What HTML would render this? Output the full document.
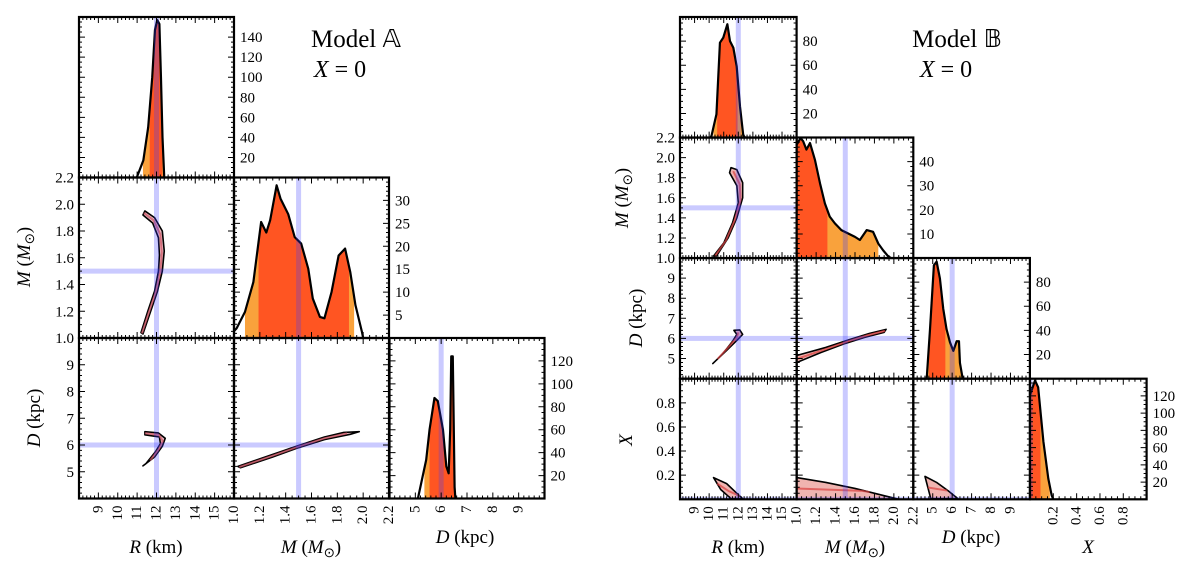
<!DOCTYPE html>
<html><head><meta charset="utf-8"><style>
html,body{margin:0;padding:0;background:#fff;}
svg{display:block;}
</style></head><body>
<svg id="fig" xmlns="http://www.w3.org/2000/svg" width="1200" height="577" viewBox="0 0 1200 577">
<rect x="0" y="0" width="1200" height="577" fill="#fff"/>
</svg>
<script>
// ---------- Model A 1D histograms ----------
const aRx=[10.98,11.32,11.57,11.78,11.92,12.04,12.15,12.23,12.31,12.4];
const aRv=[0,17,50,100,147,157,153,100,40,0];
const aRci95=[11.3,12.38], aRci68=[11.65,12.3];
const aMx=[1.0,1.02,1.085,1.15,1.21,1.25,1.28,1.33,1.36,1.42,1.47,1.52,1.575,1.61,1.665,1.70,1.755,1.81,1.86,1.90,1.94,1.99,2.0];
const aMv=[1.5,2.1,5.7,12.2,25.3,23,25.7,33.3,30.4,27,22,20.6,15.1,8.6,4.6,4.3,10,18,19.5,14.4,7.2,1.4,0];
const aMci95=[1.085,1.93], aMci68=[1.19,1.89];
const aDx=[5.1,5.42,5.55,5.74,5.87,6.07,6.2,6.29,6.35,6.39,6.45,6.52,6.55];
const aDv=[0,33.7,60,87.7,85,60,28,22,60,124,124,10,0];
const aDci95=[5.35,6.53], aDci68=[5.55,6.5];
// ---------- Model A 2D contours ----------
const aRM_R=[11.3,11.7,12.05,12.3,12.4,12.3,11.9,11.4,11.3,11.8,12.1,12.15,12.1,11.9,11.55,11.2];
const aRM_M=[1.03,1.2,1.35,1.5,1.65,1.8,1.9,1.95,1.92,1.86,1.75,1.62,1.5,1.35,1.2,1.04];
const aRD_R=[11.4,12.1,12.45,12.3,11.9,11.3,11.45,11.95,12.2,12.15,11.4];
const aRD_D=[6.5,6.45,6.25,5.95,5.55,5.22,5.3,5.75,6.05,6.3,6.38];
const aMD_M=[1.03,1.3,1.5,1.7,1.85,1.97,1.9,1.7,1.5,1.3,1.05];
const aMD_D=[5.2,5.65,5.98,6.3,6.47,6.5,6.4,6.2,5.9,5.55,5.15];
// ---------- Model B 1D histograms ----------
const bRx=[10.1,10.17,10.5,10.74,10.97,11.25,11.43,11.66,11.89,12.12,12.34,12.46];
const bRv=[0,1.9,19.4,78.7,82.9,94,80,74.5,59,25.5,1.9,0];
const bRci95=[10.3,12.3], bRci68=[10.55,11.95];
const bMx=[1.0,1.04,1.067,1.1,1.137,1.188,1.24,1.29,1.34,1.393,1.46,1.53,1.6,1.65,1.72,1.786,1.84,1.89,1.94,1.97];
const bMv=[47,49.8,48.4,45,47.7,40.7,31,22.7,17.2,14.4,11.6,10.2,8.8,7.5,11.6,10.9,6,3.2,0.8,0];
const bMci95=[1.0,1.84], bMci68=[1.0,1.316];
const bDx=[4.69,4.86,5.06,5.2,5.37,5.54,5.71,5.89,6.06,6.23,6.35,6.4,6.54];
const bDv=[0,41,94,97,83,58,41,30,23,31,31,13,0];
const bDci95=[4.75,6.5], bDci68=[4.8,5.65];
const bXx=[0,0.043,0.07,0.115,0.157,0.186,0.2];
const bXv=[121,138,130,67,24,4.5,0];
const bXci95=[0,0.17], bXci68=[0,0.09];
// ---------- Model B 2D contours ----------
const bRM_R=[10.5,11.3,11.9,12.3,12.3,11.9,11.5,11.4,11.9,12.0,11.6,11.0,10.3];
const bRM_M=[1.02,1.2,1.4,1.6,1.75,1.88,1.9,1.85,1.72,1.55,1.35,1.15,1.02];
const bRD_R=[10.25,11.2,11.9,12.3,12.1,11.7,11.9,11.6,10.9];
const bRD_D=[4.75,5.4,5.9,6.2,6.42,6.4,6.2,5.85,5.2];
const bMD_M=[1.0,1.3,1.55,1.75,1.92,1.9,1.7,1.5,1.25,1.0];
const bMD_D=[5.15,5.55,5.95,6.25,6.45,6.3,6.05,5.75,5.3,4.8];
const bRX_R=[10.3,11.2,11.9,12.3,11.5,10.8];
const bRX_X=[0.18,0.13,0.05,0.005,0.005,0.08];
const bMX_M=[1.0,1.3,1.6,1.9,2.05,1.0];
const bMX_X=[0.18,0.14,0.09,0.03,0.0,0.0];
const bDX_D=[4.6,5.2,5.8,6.3,4.9];
const bDX_X=[0.19,0.14,0.07,0.005,0.005];
// ---------- truths & tick labels ----------
const truthR=12.0, truthM=1.5, truthD=6.0, truthX=0.0;
const Rticks=[9,10,11,12,13,14,15];
const Mticks=[1.0,1.2,1.4,1.6,1.8,2.0,2.2];
const Dticks=[5,6,7,8,9];
const Xticks=[0.2,0.4,0.6,0.8];
const aRhTicks=[20,40,60,80,100,120,140];
const aMhTicks=[5,10,15,20,25,30];
const aDhTicks=[20,40,60,80,100,120];
const bRhTicks=[20,40,60,80];
const bMhTicks=[10,20,30,40];
const bDhTicks=[20,40,60,80];
const bXhTicks=[20,40,60,80,100,120];

const NS='http://www.w3.org/2000/svg';
const svg=document.getElementById('fig');
const FONT="Liberation Serif, serif";
let clipN=0;
function add(tag,parent){const e=document.createElementNS(NS,tag);parent.appendChild(e);return e;}
function set(e,o){for(const k in o)e.setAttribute(k,o[k]);return e;}
function fmt(v,d){return v.toFixed(d);}

function makePanel(name,x0,y0,w,h,xr,yr){
  const g=add('g',svg);
  
  
  const cp=add('clipPath',g);cp.id='cp'+(clipN++);
  set(add('rect',cp),{x:x0,y:y0,width:w,height:h});
  const inner=add('g',g);inner.setAttribute('clip-path','url(#'+cp.id+')');
  return {g,inner,x0,y0,w,h,xr,yr,
    sx:v=>x0+(v-xr[0])/(xr[1]-xr[0])*w,
    sy:v=>y0+h-(v-yr[0])/(yr[1]-yr[0])*h};
}
function interp(xs,vs,x){
  for(let i=0;i<xs.length-1;i++){if(x>=xs[i]&&x<=xs[i+1]){const t=(x-xs[i])/(xs[i+1]-xs[i]||1);return vs[i]+t*(vs[i+1]-vs[i]);}}
  return 0;
}
function areaPath(p,xs,vs,lo,hi){
  let d='M'+p.sx(lo)+','+p.sy(0)+' L'+p.sx(lo)+','+p.sy(interp(xs,vs,lo));
  for(let i=0;i<xs.length;i++){if(xs[i]>lo&&xs[i]<hi)d+=' L'+p.sx(xs[i])+','+p.sy(vs[i]);}
  d+=' L'+p.sx(hi)+','+p.sy(interp(xs,vs,hi))+' L'+p.sx(hi)+','+p.sy(0)+'Z';
  return d;
}
function hist(p,xs,vs,ci95,ci68,nm){
  const a95=add('path',p.inner);set(a95,{d:areaPath(p,xs,vs,ci95[0],ci95[1]),fill:'#f9a23c'});
  
  
  const a68=add('path',p.inner);set(a68,{d:areaPath(p,xs,vs,ci68[0],ci68[1]),fill:'#ff5522'});
  
  
  const ln=add('polyline',p.inner);
  set(ln,{points:xs.map((x,i)=>p.sx(x)+','+p.sy(vs[i])).join(' '),fill:'none',stroke:'#000','stroke-width':2.2,'stroke-linejoin':'round'});
  
  
}
function contour(p,xs,ys,nm,fill,core){
  const pg=add('polygon',p.inner);
  set(pg,{points:xs.map((x,i)=>p.sx(x)+','+p.sy(ys[i])).join(' '),fill:fill,stroke:'#000','stroke-width':1.6,'stroke-linejoin':'round'});
  
  
  if(core){
    const n=xs.length;const half=Math.floor(n/2);const pts=[];
    for(let i=0;i<half;i++){const j=n-1-i;pts.push(p.sx((xs[i]+xs[j])/2)+','+p.sy((ys[i]+ys[j])/2));}
    const cl=add('polyline',p.inner);set(cl,{points:pts.join(' '),fill:'none',stroke:core,'stroke-width':2,'stroke-opacity':0.7});
    
    
  }
}
function truthV(p,v){const r=add('rect',p.inner);set(r,{x:p.sx(v)-2.5,y:p.y0,width:5,height:p.h,fill:'rgb(60,60,255)','fill-opacity':0.27});
  
  }
function truthH(p,v){const r=add('rect',p.inner);set(r,{x:p.x0,y:p.sy(v)-2.5,width:p.w,height:5,fill:'rgb(60,60,255)','fill-opacity':0.27});
  
  }
function frame(p,xMaj,xMin,yMaj,yMin){
  const g=p.g;let d='';
  const nx=Math.round((p.xr[1]-p.xr[0])/xMin);
  for(let i=0;i<=nx;i++){const v=p.xr[0]+i*xMin;const m=Math.abs(v/xMaj-Math.round(v/xMaj))<1e-6;const L=m?6:3;const X=p.sx(v);
    d+='M'+X+','+(p.y0+p.h)+'v'+(-L)+'M'+X+','+p.y0+'v'+L;}
  const ny=Math.round((p.yr[1]-p.yr[0])/yMin);
  for(let i=0;i<=ny;i++){const v=p.yr[0]+i*yMin;const m=Math.abs(v/yMaj-Math.round(v/yMaj))<1e-6;const L=m?6:3;const Y=p.sy(v);
    d+='M'+p.x0+','+Y+'h'+L+'M'+(p.x0+p.w)+','+Y+'h'+(-L);}
  const t=add('path',g);set(t,{d:d,stroke:'#000','stroke-width':1,fill:'none'});
  
  
  const r=add('rect',g);set(r,{x:p.x0,y:p.y0,width:p.w,height:p.h,fill:'none',stroke:'#000','stroke-width':2.2});
  
  
}
function txt(s,x,y,size,anchor,nm,extra){
  const t=add('text',svg);set(t,{x:x,y:y,'font-size':size,'font-family':FONT,'text-anchor':anchor||'start',fill:'#000'});
  if(extra)set(t,extra);t.textContent=s;
  
  
  return t;
}
function xLabels(p,ticks,dec,fs){
  ticks.forEach(v=>{const X=p.sx(v),Y=p.y0+p.h+7;
    txt(fmt(v,dec),X,Y,fs,'end','x-tick-label',{transform:'rotate(-90 '+X+' '+Y+')','dominant-baseline':'central'});});
}
function yLabelsLeft(p,ticks,dec,fs){ticks.forEach(v=>txt(fmt(v,dec),p.x0-5,p.sy(v)+5,fs,'end','y-tick-label'));}
function yLabelsRight(p,ticks,fs){ticks.forEach(v=>txt(String(v),p.x0+p.w+6,p.sy(v)+5,fs,'start','hist-tick-label'));}
function rotTitle(html,x,y,fs){const X=x,Y=y;const t=txt('',X,Y,fs,'middle','y-axis-title',{transform:'rotate(-90 '+X+' '+Y+')'});t.innerHTML=html;}
function title(html,x,y,fs,nm){const t=txt('',x,y,fs,'middle',nm);t.innerHTML=html;}

const Rr=[8,16],Mr=[1.0,2.2],Dr=[4,10],Xr=[0,1];
const MSUN='<tspan font-style="italic">M</tspan> (<tspan font-style="italic">M</tspan><tspan font-size="70%" dy="4">⊙</tspan><tspan dy="-4">)</tspan>';
const DKPC='<tspan font-style="italic">D</tspan> (kpc)';
const RKM='<tspan font-style="italic">R</tspan> (km)';

// ================= MODEL A =================
(function(){
  const cx=[79,234,389.5,545], ry=[17,177.5,338,499];
  const W=155,H=160.5, fs=15;
  let p;
  p=makePanel('modelA-R-histogram',cx[0],ry[0],W,H,Rr,[0,160]);
  hist(p,aRx,aRv,aRci95,aRci68,'modelA-R');truthV(p,truthR);frame(p,1,0.2,20,5);yLabelsRight(p,aRhTicks,fs);
  p=makePanel('modelA-R-M-panel',cx[0],ry[1],W,H,Rr,Mr);
  contour(p,aRM_R,aRM_M,'modelA-R-M','#eebcc4','#c85060');truthV(p,truthR);truthH(p,truthM);frame(p,1,0.2,0.2,0.05);yLabelsLeft(p,Mticks,1,fs);
  p=makePanel('modelA-M-histogram',cx[1],ry[1],W,H,Mr,[0,35]);
  hist(p,aMx,aMv,aMci95,aMci68,'modelA-M');truthV(p,truthM);frame(p,0.2,0.05,5,1);yLabelsRight(p,aMhTicks,fs);
  p=makePanel('modelA-R-D-panel',cx[0],ry[2],W,H,Rr,Dr);
  contour(p,aRD_R,aRD_D,'modelA-R-D','#eebcc4','#c85060');truthV(p,truthR);truthH(p,truthD);frame(p,1,0.2,1,0.2);yLabelsLeft(p,Dticks,0,fs);xLabels(p,Rticks,0,fs);
  p=makePanel('modelA-M-D-panel',cx[1],ry[2],W,H,Mr,Dr);
  contour(p,aMD_M,aMD_D,'modelA-M-D','#eebcc4','#c85060');truthV(p,truthM);truthH(p,truthD);frame(p,0.2,0.05,1,0.2);xLabels(p,Mticks,1,fs);
  p=makePanel('modelA-D-histogram',cx[2],ry[2],W,H,Dr,[0,140]);
  hist(p,aDx,aDv,aDci95,aDci68,'modelA-D');truthV(p,truthD);frame(p,1,0.2,20,5);yLabelsRight(p,aDhTicks,fs);xLabels(p,Dticks,0,fs);
  rotTitle(MSUN,30,257,19);rotTitle(DKPC,40,418,19);
  title(RKM,156,553,19,'x-axis-title-R');title(MSUN,311,553,19,'x-axis-title-M');title(DKPC,465,543,19,'x-axis-title-D');
  title('Model <tspan font-family="DejaVu Sans">𝔸</tspan>',356,47,25,'modelA-title');
  title('<tspan font-style="italic">X</tspan> = 0',340,77,24,'modelA-subtitle');
})();

// ================= MODEL B =================
(function(){
  const cx=[680,796.7,913.3,1030,1146.5], ry=[17,137.5,258,378.7,499.5];
  const W=116.6,H=120.6, fs=15;
  let p;
  p=makePanel('modelB-R-histogram',cx[0],ry[0],W,H,Rr,[0,100]);
  hist(p,bRx,bRv,bRci95,bRci68,'modelB-R');truthV(p,truthR);frame(p,1,0.2,20,5);yLabelsRight(p,bRhTicks,fs);
  p=makePanel('modelB-R-M-panel',cx[0],ry[1],W,H,Rr,Mr);
  contour(p,bRM_R,bRM_M,'modelB-R-M','#f0b4b0','#d84040');truthV(p,truthR);truthH(p,truthM);frame(p,1,0.2,0.2,0.05);yLabelsLeft(p,Mticks,1,fs);
  p=makePanel('modelB-M-histogram',cx[1],ry[1],W,H,Mr,[0,50]);
  hist(p,bMx,bMv,bMci95,bMci68,'modelB-M');truthV(p,truthM);frame(p,0.2,0.05,10,2);yLabelsRight(p,bMhTicks,fs);
  p=makePanel('modelB-R-D-panel',cx[0],ry[2],W,H,Rr,Dr);
  contour(p,bRD_R,bRD_D,'modelB-R-D','#f0b4b0','#d84040');truthV(p,truthR);truthH(p,truthD);frame(p,1,0.2,1,0.2);yLabelsLeft(p,Dticks,0,fs);
  p=makePanel('modelB-M-D-panel',cx[1],ry[2],W,H,Mr,Dr);
  contour(p,bMD_M,bMD_D,'modelB-M-D','#f0b4b0','#d84040');truthV(p,truthM);truthH(p,truthD);frame(p,0.2,0.05,1,0.2);
  p=makePanel('modelB-D-histogram',cx[2],ry[2],W,H,Dr,[0,100]);
  hist(p,bDx,bDv,bDci95,bDci68,'modelB-D');truthV(p,truthD);frame(p,1,0.2,20,5);yLabelsRight(p,bDhTicks,fs);
  p=makePanel('modelB-R-X-panel',cx[0],ry[3],W,H,Rr,Xr);
  contour(p,bRX_R,bRX_X,'modelB-R-X','#f0b4b0','#d84040');truthV(p,truthR);truthH(p,truthX);frame(p,1,0.2,0.2,0.05);yLabelsLeft(p,Xticks,1,fs);xLabels(p,Rticks,0,fs);
  p=makePanel('modelB-M-X-panel',cx[1],ry[3],W,H,Mr,Xr);
  contour(p,bMX_M,bMX_X,'modelB-M-X','#f0b4b0','#d84040');truthV(p,truthM);truthH(p,truthX);frame(p,0.2,0.05,0.2,0.05);xLabels(p,Mticks,1,fs);
  p=makePanel('modelB-D-X-panel',cx[2],ry[3],W,H,Dr,Xr);
  contour(p,bDX_D,bDX_X,'modelB-D-X','#f0b4b0','#d84040');truthV(p,truthD);truthH(p,truthX);frame(p,1,0.2,0.2,0.05);xLabels(p,Dticks,0,fs);
  p=makePanel('modelB-X-histogram',cx[3],ry[3],W,H,Xr,[0,140]);
  hist(p,bXx,bXv,bXci95,bXci68,'modelB-X');truthV(p,truthX);frame(p,0.2,0.05,20,5);yLabelsRight(p,bXhTicks,fs);xLabels(p,Xticks,1,fs);
  rotTitle(MSUN,628,198,19);rotTitle(DKPC,642,318,19);rotTitle('<tspan font-style="italic">X</tspan>',632,440,19);
  title(RKM,738,553,19,'x-axis-title-R');title(MSUN,855,553,19,'x-axis-title-M');title(DKPC,971,543,19,'x-axis-title-D');
  title('<tspan font-style="italic">X</tspan>',1088,553,19,'x-axis-title-X');
  title('Model <tspan font-family="DejaVu Sans">𝔹</tspan>',957,47,25,'modelB-title');
  title('<tspan font-style="italic">X</tspan> = 0',946,77,24,'modelB-subtitle');
})();
</script>
</body></html>
